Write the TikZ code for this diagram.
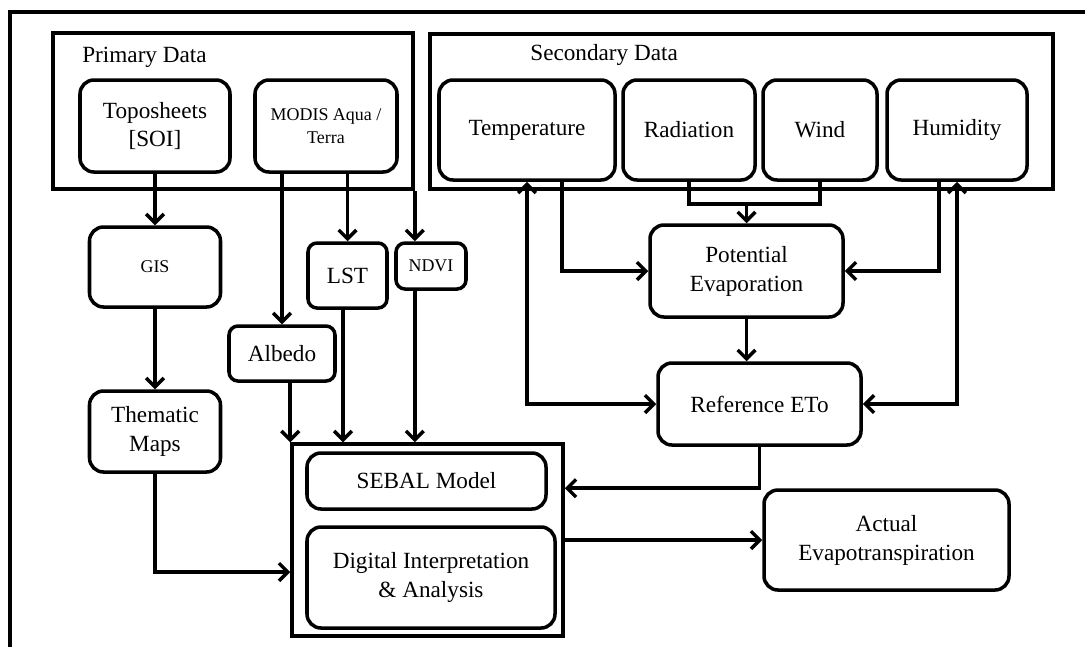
\documentclass[tikz,border=0pt]{standalone}
\usepackage{fontspec}
\setmainfont{Liberation Serif}
\usetikzlibrary{arrows.meta}

\begin{document}
\begin{tikzpicture}[x=0.02cm,y=-0.02cm,
  every node/.style={font=\fontsize{13.2}{16.5}\selectfont},
  box/.style={draw,line width=2pt,rounded corners=0.28cm,align=center,inner sep=0pt},
  sbox/.style={box,rounded corners=0.18cm},
  frame/.style={draw,line width=2pt,inner sep=0pt},
  dims/.style 2 args={minimum width=#1*0.02cm,minimum height=#2*0.02cm},
  small/.style={font=\fontsize{10.2}{13}\selectfont},
  conn/.style={line width=2pt},
  arr/.style={conn,>={Straight Barb[length=5pt,width=10pt]},->}]
   \useasboundingbox (0,0) rectangle (1085,647);
   \draw[line width=2.8pt] (10,647) -- (10,12) -- (1085,12);

   % data frames
   \node[frame,dims={360}{156}] (primary) at (233,111) {};
   \node[frame,dims={623}{155}] (secondary) at (741.5,111.5) {};
   \node[frame,dims={271}{192}] (outer) at (427.5,540) {};
   \node[anchor=west,inner sep=0pt] (ptitle) at (82,57) {Primary Data};
   \node[anchor=west,inner sep=0pt] (stitle) at (530,55) {Secondary Data};

   \node[box,dims={150}{92}] (topo) at (155,126) {Toposheets\\{[SOI]}};
   \node[box,small,dims={142}{92}] (modis) at (326,126) {MODIS Aqua /\\Terra};
   \node[box,dims={176}{100}] (temp) at (527,130) {Temperature};
   \node[box,dims={132}{100}] (rad) at (689,130) {Radiation};
   \node[box,dims={114}{100}] (wind) at (820,130) {Wind};
   \node[box,dims={140}{100}] (hum) at (957,130) {Humidity};

   \node[box,small,dims={131}{80}] (gis) at (155,267) {GIS};
   \node[box,dims={131}{81}] (thematic) at (155,431.5) {Thematic\\Maps};
   \node[sbox,dims={106}{55}] (albedo) at (282,353.5) {Albedo};
   \node[sbox,dims={79}{65}] (lst) at (347.5,275.5) {LST};
   \node[sbox,small,dims={70}{46}] (ndvi) at (431,266) {NDVI};

   \node[box,dims={239}{56}] (sebal) at (426.5,481) {SEBAL Model};
   \node[box,dims={248}{101}] (digital) at (431,577.5) {Digital Interpretation\\\& Analysis};
   \node[box,dims={193}{92}] (pot) at (746.5,271) {Potential\\Evaporation};
   \node[box,dims={203}{82}] (ref) at (759.5,404) {Reference ETo};
   \node[box,dims={245}{100}] (actual) at (886.5,540) {Actual\\Evapotranspiration};

   % left branch
   \draw[arr] (topo.south) -- (gis.north);
   \draw[arr] (gis.south) -- (thematic.north);
   \draw[arr] (thematic.south) |- ([yshift=-0.64cm]outer.west);
   \draw[arr] (albedo.north |- modis.south) -- (albedo.north);
   \draw[arr] (lst.north |- modis.south) -- (lst.north);
   \draw[arr] (primary.south east) -- (primary.south east |- ndvi.north);
   \draw[arr] (albedo.south -| outer.north west) -- (outer.north west);
   \draw[arr] ([xshift=-0.09cm]lst.south) -- ([xshift=-0.09cm]lst.south |- outer.north);
   \draw[arr] (ndvi.south -| primary.east) -- (primary.east |- outer.north);

   % right branch
   \draw[arr,<->] (temp.south) |- (ref.west);
   \draw[arr] ([xshift=0.7cm]temp.south) |- (pot.west);
   \draw[conn] (rad.south) -- ++(0,22) coordinate (rw) -| (wind.south);
   \draw[arr] (rw -| pot.north) -- (pot.north);
   \draw[arr] ([xshift=-0.36cm]hum.south) |- (pot.east);
   \draw[arr,<->] (hum.south) |- (ref.east);
   \draw[arr] (pot.south) -- (pot.south |- ref.north);
   \draw[arr] (ref.south) |- (outer.east |- actual.north);
   \draw[arr] (outer.east) -- (actual.west);
\end{tikzpicture}
\end{document}
